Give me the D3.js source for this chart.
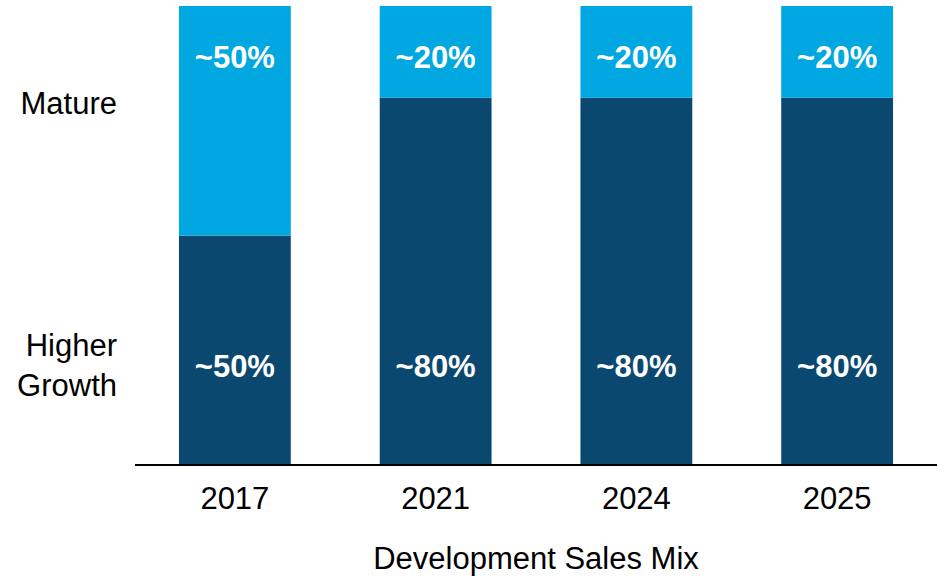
<!DOCTYPE html>
<html>
<head>
<meta charset="utf-8">
<script src="https://cdn.jsdelivr.net/npm/d3@7"></script>
<style>
  body { margin: 0; background: #fff; }
  text { font-family: Arial, "Liberation Sans", sans-serif; }
</style>
</head>
<body>
<div id="chart"></div>
<script>
var years = ["2017", "2021", "2024", "2025"];
var growth = [50, 80, 80, 80];   // Higher Growth share
var mature = [50, 20, 20, 20];   // Mature share
var growthLabels = ["~50%", "~80%", "~80%", "~80%"];
var matureLabels = ["~50%", "~20%", "~20%", "~20%"];
var seriesNames = ["Higher Growth", "Mature"];
var xTitle = "Development Sales Mix";

var W = 937, H = 582;
var plotLeft = 135, plotRight = 937, plotTop = 6, plotBottom = 465;
var fs = "31px";

var svg = d3.select("#chart").append("svg")
    .attr("width", W)
    .attr("height", H);

var x = d3.scaleBand()
    .domain(years)
    .range([plotLeft, plotRight])
    .paddingInner(0.443)
    .paddingOuter(0.219);

var y = d3.scaleLinear()
    .domain([0, 100])
    .range([plotBottom, plotTop]);

var data = years.map(function(yr, i) {
  return {year: yr, growth: growth[i], mature: mature[i], gl: growthLabels[i], ml: matureLabels[i]};
});

// higher growth (bottom)
svg.selectAll(".bar-g")
    .data(data)
  .enter().append("rect")
    .attr("class", "bar-g")
    .attr("x", function(d) { return x(d.year); })
    .attr("width", x.bandwidth())
    .attr("y", function(d) { return y(d.growth); })
    .attr("height", function(d) { return plotBottom - y(d.growth); })
    .attr("fill", "#0b4870");

// mature (top)
svg.selectAll(".bar-m")
    .data(data)
  .enter().append("rect")
    .attr("class", "bar-m")
    .attr("x", function(d) { return x(d.year); })
    .attr("width", x.bandwidth())
    .attr("y", function(d) { return y(d.growth + d.mature); })
    .attr("height", function(d) { return y(d.growth) - y(d.growth + d.mature); })
    .attr("fill", "#00a7e1");

// value labels
svg.selectAll(".lab-m")
    .data(data)
  .enter().append("text")
    .attr("x", function(d) { return x(d.year) + x.bandwidth() / 2; })
    .attr("y", y(86.6))
    .attr("text-anchor", "middle")
    .attr("font-size", fs)
    .attr("font-weight", "bold")
    .attr("fill", "#fff")
    .text(function(d) { return d.ml; });

svg.selectAll(".lab-g")
    .data(data)
  .enter().append("text")
    .attr("x", function(d) { return x(d.year) + x.bandwidth() / 2; })
    .attr("y", y(19.2))
    .attr("text-anchor", "middle")
    .attr("font-size", fs)
    .attr("font-weight", "bold")
    .attr("fill", "#fff")
    .text(function(d) { return d.gl; });

// x axis
var xAxis = d3.axisBottom(x).tickSize(0).tickPadding(22);
var gx = svg.append("g")
    .attr("transform", "translate(0," + plotBottom + ")")
    .call(xAxis);
gx.select(".domain").attr("stroke", "#000").attr("stroke-width", 2)
    .attr("d", "M" + plotLeft + ",0H" + plotRight);
gx.selectAll(".tick text")
    .attr("font-size", fs)
    .attr("font-family", "Arial, 'Liberation Sans', sans-serif")
    .attr("fill", "#000");

svg.append("text")
    .attr("x", (plotLeft + plotRight) / 2)
    .attr("y", 569)
    .attr("text-anchor", "middle")
    .attr("font-size", fs)
    .attr("fill", "#000")
    .text(xTitle);

// series names on left
svg.append("text")
    .attr("x", 117)
    .attr("y", 114)
    .attr("text-anchor", "end")
    .attr("font-size", fs)
    .attr("fill", "#000")
    .text(seriesNames[1]);

var hg = svg.append("text")
    .attr("x", 117)
    .attr("y", 356)
    .attr("text-anchor", "end")
    .attr("font-size", fs)
    .attr("fill", "#000");
seriesNames[0].split(" ").forEach(function(w, i) {
  hg.append("tspan").attr("x", 117).attr("dy", i ? 40 : 0).text(w);
});
</script>
</body>
</html>
